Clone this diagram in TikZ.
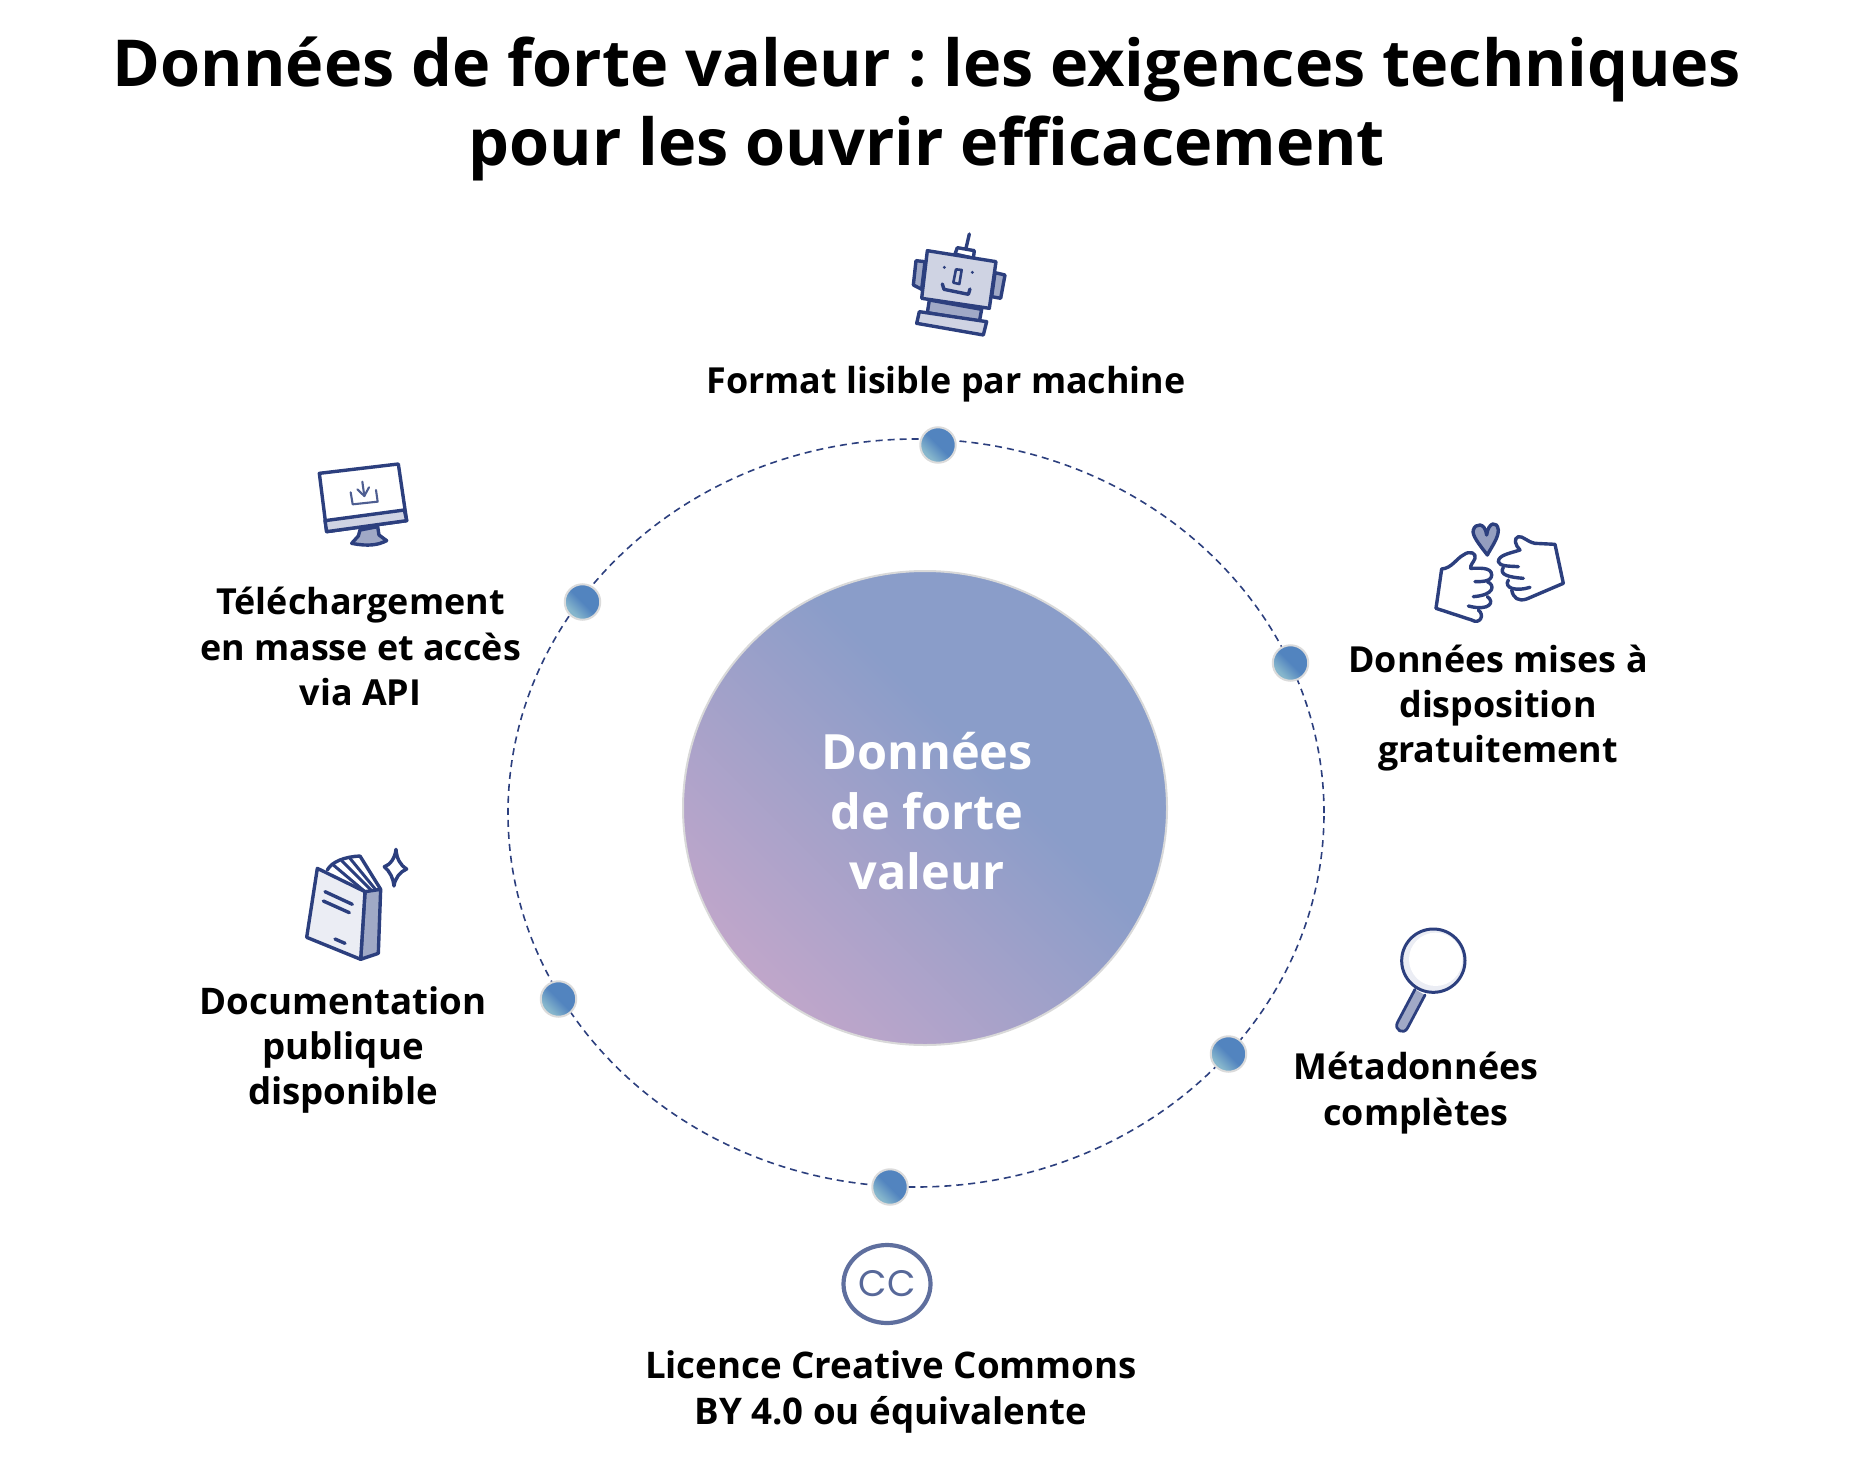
\documentclass[tikz,border=0pt]{standalone}
\usepackage{fontspec}
\usetikzlibrary{shapes.geometric}
\setmainfont{Open Sans}
\newfontfamily\ccfont{Poppins}
\frenchspacing
\definecolor{ink}{HTML}{2C3F7E}
\definecolor{inkl}{HTML}{4E5E91}
\definecolor{tone}{HTML}{A0A9C6}
\definecolor{pale}{HTML}{CFD3E3}
\definecolor{mist}{HTML}{EBEDF4}
\definecolor{ccol}{HTML}{5F6F9E}
\definecolor{orbp}{HTML}{CBA8CA}
\definecolor{orbb}{HTML}{8A9DC9}
\definecolor{dotb}{HTML}{5284BF}
\definecolor{dotl}{HTML}{86B6CC}
\pgfdeclarehorizontalshading{orbshade}{100bp}{color(0bp)=(orbp); color(18bp)=(orbp); color(58bp)=(orbb); color(100bp)=(orbb)}
\pgfdeclarehorizontalshading{dotshade}{100bp}{color(0bp)=(dotl); color(30bp)=(dotl); color(50bp)=(dotb); color(100bp)=(dotb)}
\tikzset{
  titletext/.style={font=\bfseries\fontsize{65}{80}\selectfont,align=center,text=black,inner sep=0pt},
  labeltext/.style={font=\bfseries\fontsize{36}{45.5}\selectfont,align=center,text=black,inner sep=0pt},
  labelwide/.style={labeltext,font=\bfseries\fontsize{36.8}{45.5}\selectfont},
  orbtext/.style={font=\bfseries\fontsize{48.8}{60.5}\selectfont,align=center,text=white,inner sep=0pt},
  dotnode/.style={circle,minimum size=35.5bp,inner sep=0pt,draw=black!14,line width=2bp,shading=dotshade,shading angle=45},
  icon/.style={draw=ink,line width=3.4bp,line join=round,line cap=round},
  iconz/.style={x=0.33333bp,y=-0.33333bp}
}
\begin{document}
\begin{tikzpicture}[x=1bp,y=-1bp]
\useasboundingbox (0,0) rectangle (1875,1482);
\node[titletext] (title) at (927,109) {Données de forte valeur : les exigences techniques\\pour les ouvrir efficacement};
\node[ellipse,draw=ink,line width=1.6bp,dash pattern=on 7bp off 5bp,minimum width=816bp,minimum height=748bp,inner sep=0pt] (ring) at (916,813) {};
\node[ellipse,minimum width=484bp,minimum height=474bp,inner sep=0pt,draw=black!15,line width=2bp,shading=orbshade,shading angle=45] (orb) at (925,808) {};
\node[orbtext] (orblabel) at (927,811) {Données\\de forte\\valeur};
\node[dotnode] (d1) at (938,445) {};
\node[dotnode] (d2) at (1290.5,663) {};
\node[dotnode] (d3) at (1228.5,1054) {};
\node[dotnode] (d4) at (890,1187) {};
\node[dotnode] (d5) at (558.5,999) {};
\node[dotnode] (d6) at (582.5,602) {};
\node[labeltext] (l1) at (946,384) {Format lisible par machine};
\node[labeltext] (l2) at (1498,708) {Données mises à\\disposition\\gratuitement};
\node[labeltext] (l3) at (1416,1093) {Métadonnées\\complètes};
\node[labelwide] (l4) at (891,1392) {Licence Creative Commons\\BY 4.0 ou équivalente};
\node[labelwide] (l5) at (343,1050) {Documentation\\publique\\disponible};
\node[labeltext] (l6) at (360.5,646.5) {Téléchargement\\en masse et accès\\via API};
% robot
\begin{scope}[shift={(880,210)},iconz]
\draw[icon] (268,72)--(258,115);
\draw[icon,fill=white] (232,113)--(283,122)--(280,145)--(225,132)--cycle;
\draw[icon,fill=tone] (135,155)--(108,152)--(100,225)--(125,238)--cycle;
\draw[icon,fill=tone] (345,188)--(375,195)--(362,265)--(335,260)--cycle;
\draw[icon,fill=tone] (148,270)--(142,308)--(298,335)--(305,298)--cycle;
\draw[icon,fill=pale] (142,122)--(348,155)--(328,295)--(125,265)--cycle;
\draw[icon,fill=pale] (118,305)--(320,335)--(310,375)--(110,340)--cycle;
\fill[ink] (193,172) circle[radius=5] (277,187) circle[radius=5];
\draw[icon,line width=2.6bp] (228,178)--(245,180)--(238,222)--(220,218)--cycle;
\draw[icon] (187,222)--(192,238)--(265,253)--(270,237);
\end{scope}
% hands
\begin{scope}[shift={(1410,500)},iconz]
\draw[icon,fill=tone!90!ink] (232,165) .. controls (205,130) and (185,105) .. (190,90) .. controls (195,70) and (225,65) .. (230,105) .. controls (235,65) and (262,62) .. (265,90) .. controls (265,115) and (245,140) .. (232,165) -- cycle;
\draw[icon] (78,325)--(95,207) .. controls (125,205) and (140,175) .. (160,165) .. controls (180,150) and (200,160) .. (195,175) .. controls (190,188) and (180,195) .. (182,205) .. controls (205,205) and (245,200) .. (245,225) .. controls (245,245) and (215,245) .. (195,245);
\draw[icon] (232,245) .. controls (255,255) and (255,285) .. (190,290);
\draw[icon] (232,290) .. controls (255,305) and (240,335) .. (175,318);
\draw[icon] (205,330) .. controls (225,345) and (210,375) .. (185,360) -- (78,325);
\draw[icon] (460,250)--(435,133)--(375,130) .. controls (350,125) and (340,108) .. (325,110) .. controls (310,115) and (315,135) .. (330,150) .. controls (300,160) and (265,165) .. (265,185) .. controls (268,200) and (300,198) .. (325,200);
\draw[icon] (280,202) .. controls (265,225) and (300,232) .. (340,235);
\draw[icon] (295,240) .. controls (280,265) and (320,275) .. (360,262);
\draw[icon] (305,270) .. controls (310,295) and (325,305) .. (350,297) -- (460,250);
\end{scope}
% magnifier
\begin{scope}[shift={(1370,910)},iconz]
\draw[icon,fill=tone,line width=2.8bp] (135,238)--(82,338) .. controls (72,360) and (100,375) .. (112,355) -- (165,255);
\fill[mist] (190,152) circle[radius=95];
\fill[white] (197,148) circle[radius=80];
\draw[icon,line width=3bp] (190,152) circle[radius=95];
\end{scope}
% cc
\node[ellipse,draw=ccol,line width=4.2bp,minimum width=87bp,minimum height=78bp,inner sep=0pt,font=\ccfont\fontsize{37}{37}\selectfont,text=ccol!85!ink] (cc) at (887,1284) {CC};
% book
\begin{scope}[shift={(290,840)},iconz]
\draw[icon] (112,90) .. controls (125,65) and (165,50) .. (210,48) -- (272,148);
\draw[icon,line width=3bp] (130,75)--(225,155);
\draw[icon,line width=3bp] (155,62)--(245,152);
\draw[icon,line width=3bp] (180,55)--(258,150);
\draw[icon,fill=tone] (225,155)--(272,148)--(265,340)--(212,358)--cycle;
\draw[icon,fill=mist] (82,85)--(225,155)--(212,358)--(50,292)--cycle;
\draw[icon] (105,155)--(187,193);
\draw[icon] (100,183)--(178,218);
\draw[icon] (135,297)--(165,310);
\draw[icon] (318,28) .. controls (320,55) and (330,75) .. (350,87) .. controls (330,95) and (315,115) .. (312,138) .. controls (310,115) and (300,95) .. (283,80) .. controls (300,75) and (315,55) .. (318,28) -- cycle;
\end{scope}
% monitor
\begin{scope}[shift={(305,450)},iconz]
\draw[icon,fill=tone] (165,240)--(160,258)--(140,280) .. controls (190,290) and (220,285) .. (245,272)--(222,255)--(218,230)--cycle;
\draw[icon,fill=white] (43,70)--(280,42)--(305,212)--(65,245)--cycle;
\draw[icon,fill=pale] (60,212)--(298,180)--(305,212)--(65,245)--cycle;
\draw[draw=inkl,line width=2.1bp,line cap=round,line join=round] (137,127)--(143,163)--(218,155)--(213,120);
\draw[draw=inkl,line width=2.1bp,line cap=round,line join=round] (172,95)--(178,138);
\draw[draw=inkl,line width=2.1bp,line cap=round,line join=round] (157,118)--(178,138)--(192,112);
\end{scope}
\end{tikzpicture}
\end{document}
